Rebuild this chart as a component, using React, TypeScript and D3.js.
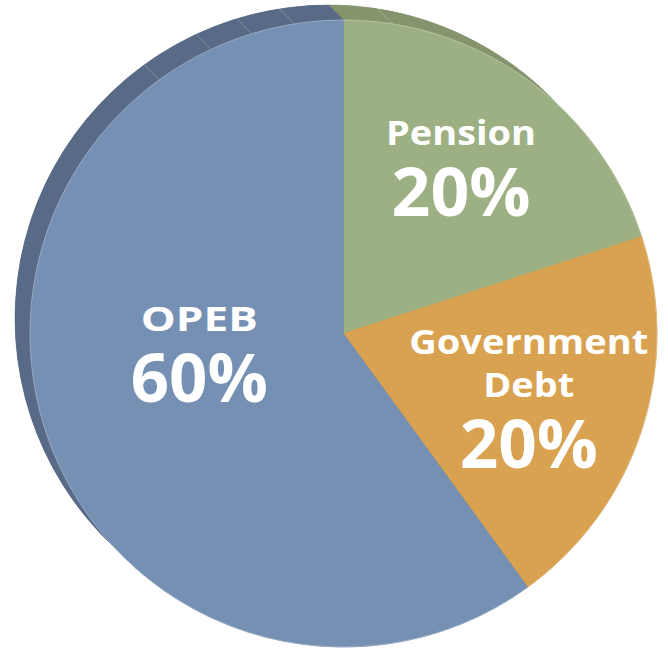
import React, { useRef, useEffect } from "react";
import * as d3 from "d3";

// slices go clockwise from 12 o'clock
const categories = ["Pension", "Government Debt", "OPEB"];
const values = [20, 20, 60];
const labelLines = [["Pension"], ["Government", "Debt"], ["OPEB"]];
const pctLabels = ["20%", "20%", "60%"];

const faceColors = ["#9cb083", "#d9a250", "#7690b4"];
const sideColors = ["#85946d", "#b5873f", "#586a86"];

// where the side facets show a faint seam (degrees from top)
const seamAngles = [9, -9, -17, -25, -36];

const W = 668;
const H = 649;
const cx = 343.5;
const cy = 333.5;
const R = 313.5;
const depth = { x: -15, y: -15 };

// label layout tweaks per slice: [dx, dy] from centroid, and text widths
const labelNudge = [
  [0, -27],
  [-5, -41],
  [46, -64],
];
const labelWidths = [[150], [239, 91], [117]];
const pctWidths = [139, 138, 137];

const App = () => {
  const ref = useRef<SVGSVGElement | null>(null);

  useEffect(() => {
    const svg = d3.select(ref.current);
    svg.selectAll("*").remove();

    const pie = d3
      .pie<number>()
      .sort(null)
      .value((d) => d);
    const arcs = pie(values);

    const g = svg.append("g").attr("transform", `translate(${cx},${cy})`);

    // extruded side: between the front arc and the same arc pushed back
    const pt = (a: number, dx = 0, dy = 0) => [
      R * Math.sin(a) + dx,
      -R * Math.cos(a) + dy,
    ];
    arcs.forEach((a, i) => {
      const n = 60;
      const front = d3.range(n + 1).map((k) => {
        const t = a.startAngle + ((a.endAngle - a.startAngle) * k) / n;
        return pt(t);
      });
      const back = d3
        .range(n + 1)
        .map((k) => {
          const t = a.startAngle + ((a.endAngle - a.startAngle) * k) / n;
          return pt(t, depth.x, depth.y);
        })
        .reverse();
      const line = d3.line();
      g.append("path")
        .attr("d", line(front.concat(back) as [number, number][]) + "Z")
        .attr("fill", sideColors[i])
        .attr("stroke", sideColors[i])
        .attr("stroke-width", 0.5);
      // back cap so the slice joins are filled too
      g.append("path")
        .attr(
          "d",
          d3.arc()({
            innerRadius: 0,
            outerRadius: R,
            startAngle: a.startAngle,
            endAngle: a.endAngle,
          }) as string
        )
        .attr("transform", `translate(${depth.x},${depth.y})`)
        .attr("fill", sideColors[i]);
    });

    seamAngles.forEach((deg) => {
      const t = (deg * Math.PI) / 180;
      const [x1, y1] = pt(t);
      const [x2, y2] = pt(t, depth.x, depth.y);
      g.append("line")
        .attr("x1", x1)
        .attr("y1", y1)
        .attr("x2", x2)
        .attr("y2", y2)
        .attr("stroke", "rgba(255,255,255,0.3)")
        .attr("stroke-width", 0.8);
    });

    const arc = d3.arc<d3.PieArcDatum<number>>().innerRadius(0).outerRadius(R);

    g.selectAll("path.face")
      .data(arcs)
      .enter()
      .append("path")
      .attr("class", "face")
      .attr("d", arc)
      .attr("fill", (d, i) => faceColors[i])
      .attr("stroke", (d, i) => faceColors[i])
      .attr("stroke-width", 0.6);

    g.append("circle")
      .attr("r", R)
      .attr("fill", "none")
      .attr("stroke", "rgba(255,255,255,0.35)")
      .attr("stroke-width", 0.8);

    const labelArc = d3
      .arc<d3.PieArcDatum<number>>()
      .innerRadius(200)
      .outerRadius(200);

    arcs.forEach((a, i) => {
      const [lx, ly] = labelArc.centroid(a);
      const x = lx + labelNudge[i][0];
      let y = ly + labelNudge[i][1];
      const t = g
        .append("g")
        .attr("fill", "#ffffff")
        .attr("font-family", "'Open Sans', sans-serif")
        .attr("font-weight", 700)
        .attr("text-anchor", "middle");
      labelLines[i].forEach((s, k) => {
        if (k > 0) y += 43;
        t.append("text")
          .attr("x", x)
          .attr("y", y)
          .attr("font-size", 34)
          .attr("textLength", labelWidths[i][k])
          .attr("lengthAdjust", "spacingAndGlyphs")
          .text(s);
      });
      y += 71;
      t.append("text")
        .attr("x", x)
        .attr("y", y)
        .attr("font-size", 66)
        .attr("textLength", pctWidths[i])
        .attr("lengthAdjust", "spacingAndGlyphs")
        .text(pctLabels[i]);
    });
  }, []);

  return (
    <svg
      ref={ref}
      width={W}
      height={H}
      style={{ position: "absolute", left: 0, top: 0, background: "#fff" }}
      aria-label={categories.join(", ")}
    ></svg>
  );
};

export default App;
